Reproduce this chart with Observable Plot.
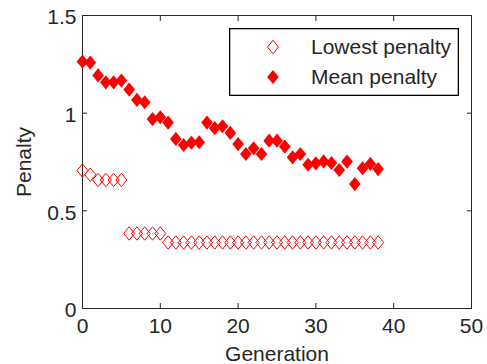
<!DOCTYPE html>
<html><head><meta charset="utf-8">
<script src="https://cdn.jsdelivr.net/npm/d3@7"></script>
<script src="https://cdn.jsdelivr.net/npm/@observablehq/plot@0.6"></script>
<style>
body{margin:0;background:#fff;}
#chart{position:relative;width:487px;height:364px;font-family:"Liberation Sans",Arial,Helvetica,sans-serif;}
#legend{position:absolute;left:229px;top:28px;}
</style></head><body><div id="chart"></div>
<script>
const generations = [0,1,2,3,4,5,6,7,8,9,10,11,12,13,14,15,16,17,18,19,20,21,22,23,24,25,26,27,28,29,30,31,32,33,34,35,36,37,38];
const meanPenalty = [1.264,1.259,1.193,1.158,1.158,1.167,1.121,1.068,1.056,0.970,0.979,0.952,0.868,0.837,0.849,0.851,0.952,0.923,0.933,0.899,0.842,0.791,0.820,0.791,0.859,0.859,0.829,0.774,0.791,0.736,0.743,0.753,0.745,0.709,0.752,0.637,0.718,0.740,0.714];
const lowestPenalty = [0.706,0.685,0.658,0.658,0.658,0.658,0.384,0.384,0.384,0.384,0.384,0.338,0.338,0.338,0.338,0.338,0.338,0.338,0.338,0.338,0.338,0.338,0.338,0.338,0.338,0.338,0.338,0.338,0.338,0.338,0.338,0.338,0.338,0.338,0.338,0.338,0.338,0.338,0.338];
const xTicks = [0,10,20,30,40,50];
const yTicks = [0,0.5,1,1.5];
const seriesNames = ["Lowest penalty","Mean penalty"];

const lowestData = generations.map((g,i)=>({g, v: lowestPenalty[i]}));
const meanData = generations.map((g,i)=>({g, v: meanPenalty[i]}));

const diamond = {
  draw(ctx, size) {
    const h = Math.sqrt(size / Math.PI), w = h * 0.82;
    ctx.moveTo(0, -h); ctx.lineTo(w, 0); ctx.lineTo(0, h); ctx.lineTo(-w, 0); ctx.closePath();
  }
};
const ink = "#262626";
const red = "#ff0000";
const fs = 21;

const plot = Plot.plot({
  width: 487, height: 364,
  marginLeft: 82, marginRight: 16, marginTop: 15, marginBottom: 56,
  style: {fontFamily: '"Liberation Sans",Arial,Helvetica,sans-serif', fontSize: fs + "px", color: ink, background: "#fff"},
  x: {domain: [0, 50]},
  y: {domain: [0, 1.5]},
  marks: [
    Plot.frame({stroke: ink, strokeWidth: 1}),
    Plot.axisX({anchor: "bottom", ticks: xTicks, tickSize: -5, fill: "none", label: null}),
    Plot.axisX({anchor: "top", ticks: xTicks, tickSize: -5, fill: "none", label: null}),
    Plot.axisY({anchor: "left", ticks: yTicks, tickSize: -5, fill: "none", label: null}),
    Plot.axisY({anchor: "right", ticks: yTicks, tickSize: -5, fill: "none", label: null}),
    Plot.axisX({anchor: "bottom", ticks: xTicks, tickSize: 0, tickPadding: 10, fontSize: fs,
      label: "Generation", labelAnchor: "center", labelOffset: 52, labelArrow: "none"}),
    Plot.axisY({anchor: "left", ticks: yTicks, tickSize: 0, tickPadding: 6, fontSize: fs, dy: 2,
      tickFormat: d => `${d}`, label: "Penalty", labelAnchor: "center", labelOffset: 66, labelArrow: "none"}),
    Plot.dot(lowestData, {x: "g", y: "v", symbol: diamond, r: 6.7, fill: "none", stroke: red, strokeWidth: 1}),
    Plot.dot(meanData, {x: "g", y: "v", symbol: diamond, r: 7.1, fill: red, stroke: "none"})
  ]
});

const chart = document.getElementById("chart");
chart.appendChild(plot);

// legend
const lg = d3.create("svg").attr("id","legend").attr("width", 230).attr("height", 68);
lg.append("rect").attr("x",0.65).attr("y",0.65).attr("width",228.7).attr("height",66.7)
  .attr("fill","#fff").attr("stroke","#000").attr("stroke-width",1.3);
const sym = (i, filled) => {
  const h = filled ? 7.1 : 6.7, w = h*0.82;
  const cy = 19 + i*30;
  lg.append("path").attr("d", `M44,${cy-h}L${44+w},${cy}L44,${cy+h}L${44-w},${cy}Z`)
    .attr("fill", filled ? red : "none").attr("stroke", filled ? "none" : red).attr("stroke-width",1);
  lg.append("text").attr("x",82).attr("y",cy).attr("dy","0.35em")
    .attr("font-size",fs).attr("fill",ink).attr("font-family",'"Liberation Sans",Arial,Helvetica,sans-serif')
    .text(seriesNames[i]);
};
sym(0,false); sym(1,true);
chart.appendChild(lg.node());
</script></body></html>
